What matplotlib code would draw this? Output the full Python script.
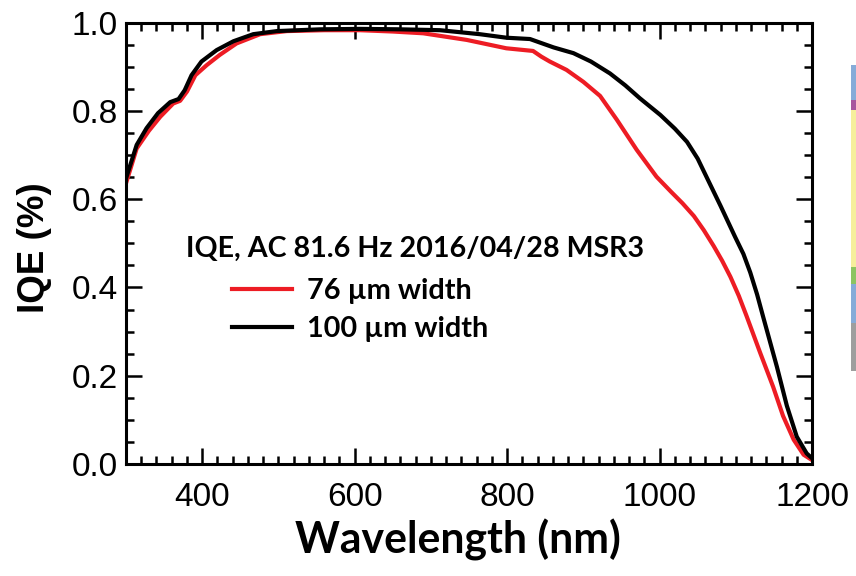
import matplotlib
matplotlib.use("Agg")
import matplotlib.pyplot as plt
from matplotlib.patches import Rectangle
from matplotlib.ticker import MultipleLocator

# ---- data ----
wl_76 = [300, 314, 330, 345, 362, 371, 380, 391, 406, 423, 445, 476, 511, 560, 607, 650, 690,
         747, 799, 834, 845, 856, 878, 900, 922, 944, 970, 996, 1015, 1030, 1045, 1058, 1071,
         1082, 1093, 1104, 1114, 1132, 1149, 1162, 1176, 1189, 1200]
iqe_76 = [0.636, 0.715, 0.755, 0.787, 0.817, 0.823, 0.844, 0.881, 0.904, 0.927, 0.953, 0.974,
          0.981, 0.983, 0.983, 0.980, 0.976, 0.961, 0.942, 0.936, 0.923, 0.912, 0.893, 0.866,
          0.834, 0.780, 0.712, 0.651, 0.617, 0.591, 0.562, 0.530, 0.494, 0.461, 0.424, 0.381,
          0.336, 0.252, 0.175, 0.109, 0.055, 0.021, 0.009]

wl_100 = [300, 314, 327, 342, 358, 369, 377, 386, 399, 419, 441, 467, 498, 555, 607, 660, 712,
          764, 799, 830, 843, 861, 887, 910, 935, 955, 974, 1001, 1020, 1036, 1050, 1064, 1080,
          1099, 1110, 1119, 1128, 1136, 1154, 1167, 1180, 1193, 1200]
iqe_100 = [0.647, 0.723, 0.761, 0.795, 0.820, 0.827, 0.847, 0.881, 0.912, 0.938, 0.958, 0.974,
           0.981, 0.985, 0.986, 0.985, 0.983, 0.974, 0.966, 0.963, 0.955, 0.944, 0.931, 0.912,
           0.885, 0.858, 0.829, 0.791, 0.760, 0.730, 0.692, 0.642, 0.585, 0.515, 0.476, 0.434,
           0.384, 0.333, 0.220, 0.132, 0.062, 0.024, 0.013]

labels = ["76 \u00b5m width", "100 \u00b5m width"]
legend_title = "IQE, AC 81.6 Hz 2016/04/28 MSR3"
xlabel = "Wavelength (nm)"
ylabel = "IQE (%)"

# ---- figure ----
W, H = 856, 576
fig = plt.figure(figsize=(W / 100, H / 100), dpi=100)
ax = fig.add_axes([126 / W, 1 - 464 / H, (812 - 126) / W, (464 - 22.7) / H])

red = "#ED1C24"
l1, = ax.plot(wl_76, iqe_76, color=red, lw=3.0, solid_joinstyle="round")
l2, = ax.plot(wl_100, iqe_100, color="black", lw=3.0, solid_joinstyle="round")

ax.set_xlim(300, 1200)
ax.set_ylim(0, 1.0)
ax.xaxis.set_major_locator(MultipleLocator(200))
ax.xaxis.set_minor_locator(MultipleLocator(20))
ax.yaxis.set_major_locator(MultipleLocator(0.2))
ax.yaxis.set_minor_locator(MultipleLocator(0.05))
ax.set_xticks([400, 600, 800, 1000, 1200])
ax.xaxis.set_major_formatter(matplotlib.ticker.FuncFormatter(lambda v, p: f"{int(v)}"))
ax.yaxis.set_major_formatter(matplotlib.ticker.FuncFormatter(lambda v, p: f"{v:.1f}"))

for s in ax.spines.values():
    s.set_linewidth(2.2)
ax.tick_params(which="both", direction="in", top=True, right=True, width=1.8)
ax.tick_params(which="major", length=11.5)
ax.tick_params(which="minor", length=6)
ax.tick_params(axis="x", which="major", pad=13)
ax.tick_params(axis="y", which="major", pad=6)
for t in ax.get_xticklabels() + ax.get_yticklabels():
    t.set_fontfamily("Liberation Sans")
    t.set_fontsize(24)

ax.set_xlabel(xlabel, fontfamily="Lato", fontweight="bold", fontsize=30.8)
ax.xaxis.set_label_coords((458 - 126) / 686, (464 - 519) / 441.3)
ax.set_ylabel(ylabel, fontfamily="Liberation Sans", fontweight="bold", fontsize=26.5)
ax.yaxis.set_label_coords((52 - 126) / 686, (464 - 247.5) / 441.3)

ax.text((186 - 126) / 686, (464 - 249) / 441.3, legend_title, transform=ax.transAxes,
        ha="left", va="center", fontfamily="Lato", fontweight="bold", fontsize=20.6)
leg = ax.legend([l1, l2], labels, loc="center left",
                bbox_to_anchor=((232 - 126) / 686, (464 - 310) / 441.3),
                frameon=False, borderpad=0, borderaxespad=0, handlelength=2.08,
                handletextpad=0.52, labelspacing=0.4,
                prop={"family": "Lato", "weight": "bold", "size": 20.8})

# decorative colour strip at the right edge of the reference slide
strip = [(65, 100, "#86ABD8"), (100, 110, "#A8559E"), (110, 267, "#F6EF9C"),
         (267, 284, "#8DC462"), (284, 323, "#86ABD8"), (323, 371, "#9E9E9E")]
for y0, y1, c in strip:
    fig.patches.append(Rectangle((851 / W, 1 - y1 / H), 6 / W, (y1 - y0) / H,
                                 transform=fig.transFigure, color=c, lw=0))

fig.savefig("out.png", dpi=100)
